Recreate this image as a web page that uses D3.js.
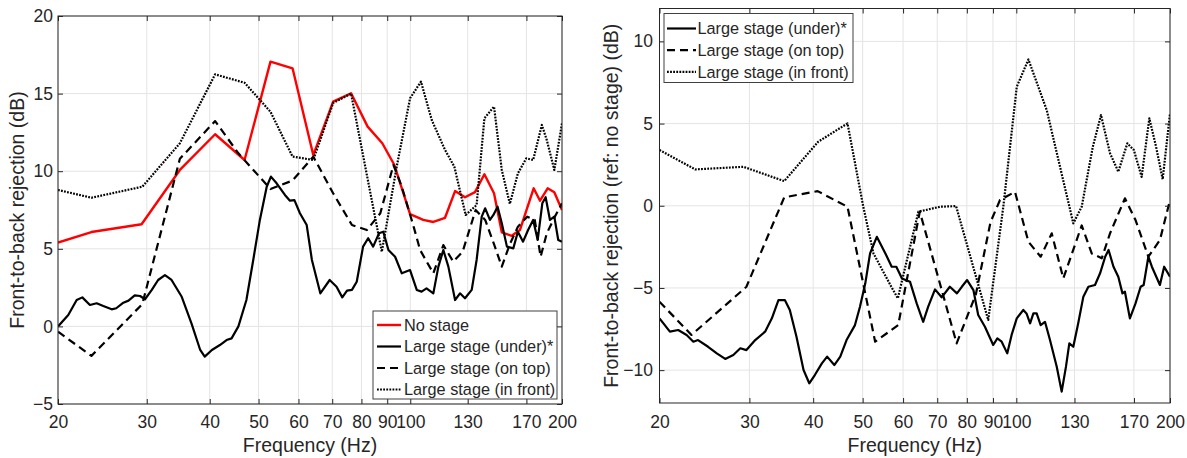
<!DOCTYPE html>
<html>
<head>
<meta charset="utf-8">
<script src="https://cdn.jsdelivr.net/npm/d3@7"></script>
<style>
  html, body { margin: 0; padding: 0; background: #fff; }
  svg { display: block; }
  text { font-family: "Liberation Sans", Arial, Helvetica, sans-serif; fill: #262626; }
</style>
</head>
<body>
<svg id="chart" width="1187" height="458"></svg>
<script>
// ---------------- DATA ----------------
const xTickValues = [20, 30, 40, 50, 60, 70, 80, 90, 100, 130, 170, 200];
const xTickLabels = ["20", "30", "40", "50", "60", "70", "80", "90", "100", "130", "170", "200"];
const leftYTicks = [-5, 0, 5, 10, 15, 20];
const rightYTicks = [-10, -5, 0, 5, 10];

const xLabel = "Frequency (Hz)";
const leftYLabel = "Front-to-back rejection (dB)";
const rightYLabel = "Front-to-back rejection (ref: no stage) (dB)";

const leftLegend = ["No stage", "Large stage (under)*", "Large stage (on top)", "Large stage (in front)"];
const rightLegend = ["Large stage (under)*", "Large stage (on top)", "Large stage (in front)"];

// Left panel: No stage (red)
const noStageFreq = [20, 23.3, 29.3, 34.9, 41.0, 46.9, 52.8, 58.4, 64.2, 70.3, 76.3, 82.3, 88.0, 93.0, 99.9, 106.1, 111.1, 117.2, 122.7, 128.4, 134.4, 140.3, 146.6, 151.9, 158.9, 165, 175.7, 180.9, 187.3, 193.1, 200];
const noStageVal = [5.4, 6.08, 6.58, 10.08, 12.38, 10.72, 17.06, 16.63, 11.04, 14.48, 15.02, 12.87, 11.8, 10.4, 7.24, 6.86, 6.73, 7.0, 8.72, 8.32, 8.65, 9.8, 8.58, 6.06, 5.84, 6.21, 8.9, 8.1, 8.9, 8.64, 7.5];

// Left panel: Large stage (under)* (solid)
const underFreq = [20, 20.96, 21.78, 22.35, 23.14, 23.86, 24.6, 25.56, 26.1, 26.96, 27.6, 28.4, 29.1, 29.76, 30.7, 31.6, 32.6, 33.6, 35.2, 36.8, 38.3, 39.1, 40.4, 41.9, 43.2, 44.2, 45.6, 47.3, 48.8, 50.3, 51.9, 52.9, 54.3, 56.4, 57.7, 58.9, 60.4, 62.3, 63.8, 66.3, 69.2, 71.4, 73.3, 74.9, 76.6, 78.3, 80.6, 82.5, 84.4, 86.7, 88.4, 90.5, 93.3, 96.2, 99.9, 103, 105.3, 107.7, 111.1, 113.7, 116.3, 119, 122.7, 125.5, 128.4, 132.4, 135.4, 138.6, 140.8, 143.9, 146.2, 149, 151.9, 155.5, 160.1, 163.5, 167.4, 171.3, 175.3, 179, 182.8, 185.6, 189.3, 193.1, 196.6, 200];
const underVal = [0, 0.73, 1.7, 1.87, 1.38, 1.49, 1.31, 1.1, 1.17, 1.53, 1.66, 2.0, 1.96, 1.75, 2.35, 2.99, 3.31, 2.99, 1.91, 0.2, -1.52, -1.95, -1.52, -1.2, -0.88, -0.77, 0, 1.7, 4.28, 6.86, 9.0, 9.65, 9.22, 8.47, 8.1, 8.14, 7.29, 6.53, 4.28, 2.13, 2.99, 2.56, 1.87, 2.3, 2.35, 2.88, 5.14, 5.68, 5.14, 6.0, 6.1, 4.92, 4.49, 3.42, 3.63, 2.35, 2.24, 2.45, 2.13, 3.85, 4.92, 3.85, 1.7, 2.13, 1.81, 2.35, 4.28, 7.07, 7.61, 6.86, 7.18, 7.71, 6.64, 5.14, 5.03, 6.1, 5.46, 6.21, 6.86, 5.57, 7.93, 8.32, 6.86, 7.07, 5.57, 5.46];

// Left panel: Large stage (on top) (dashed)
const onTopFreq = [20, 23.3, 29.4, 34.9, 41.0, 45.6, 52.8, 58.4, 64.2, 70.3, 76.6, 82.0, 87.2, 92.6, 96.2, 101.6, 104.6, 111.1, 116.3, 121.7, 127.0, 134.8, 140.8, 146.6, 151.9, 157.6, 163.5, 170.6, 176.6, 181.4, 186.6, 193.1, 200];
const onTopVal = [-0.34, -1.9, 1.44, 10.8, 13.23, 11.15, 8.85, 9.4, 10.94, 8.58, 6.53, 6.21, 7.29, 10.4, 9.0, 6.4, 4.92, 3.42, 5.24, 4.17, 4.81, 7.5, 6.86, 5.3, 3.85, 5.3, 6.42, 7.07, 6.86, 4.49, 6.0, 7.0, 7.93];

// Left panel: Large stage (in front) (dotted)
const inFrontFreq = [20, 23.3, 29.4, 34.9, 41.0, 46.9, 52.8, 58.4, 64.2, 70.3, 76.3, 82.3, 87.8, 94.0, 99.9, 105.0, 110.3, 117.2, 122.3, 128.8, 135.4, 140.3, 146.6, 151.9, 157.6, 163.5, 169.9, 175.3, 182.4, 186.6, 193.1, 200];
const inFrontVal = [8.79, 8.29, 9.0, 11.8, 16.24, 15.7, 13.83, 10.94, 10.72, 14.4, 15.0, 9.5, 4.81, 10.3, 14.7, 15.77, 13.3, 11.37, 10.29, 7.18, 7.82, 13.41, 14.16, 10.08, 7.89, 9.86, 10.83, 10.72, 12.98, 12.0, 10.08, 13.08];

// Right panel: Large stage (under)* relative (solid)
const relUnderFreq = [20, 20.96, 21.76, 22.6, 23.3, 23.8, 24.9, 25.9, 26.9, 27.9, 28.8, 29.6, 30.8, 32.2, 33.2, 34.2, 35.2, 36.0, 37.1, 38.3, 39.3, 40.3, 41.6, 42.6, 44.0, 45.2, 46.5, 48.3, 49.4, 50.6, 51.7, 53.3, 55.4, 57.0, 58.2, 59.7, 61.9, 63.8, 65.7, 67.2, 69.3, 71.4, 74.1, 76.5, 78.2, 80.1, 82.4, 84.2, 86.8, 90.1, 91.8, 93.6, 96.0, 97.9, 100.2, 103.2, 104.7, 106.4, 108, 109.6, 111.6, 113.8, 116.4, 120, 122.7, 125.1, 127, 129.3, 132.2, 135.3, 138.4, 142.6, 145.9, 149.3, 151.6, 155.0, 158.4, 161.4, 163.2, 166.9, 171.2, 175.2, 177.6, 181.4, 184.3, 191.1, 194.8, 200];
const relUnderVal = [-6.85, -7.66, -7.56, -7.86, -8.27, -8.17, -8.58, -8.98, -9.32, -9.08, -8.67, -8.78, -8.17, -7.66, -6.85, -5.74, -5.74, -6.34, -7.97, -9.99, -10.8, -10.3, -9.59, -9.18, -9.69, -9.18, -8.17, -7.26, -6.14, -4.72, -2.9, -1.89, -2.9, -3.71, -3.71, -4.42, -4.62, -5.94, -7.06, -6.14, -5.09, -5.57, -4.93, -5.33, -4.93, -4.52, -5.13, -6.65, -7.36, -8.47, -8.07, -8.27, -8.98, -7.86, -6.85, -6.34, -6.55, -7.15, -6.55, -6.55, -7.26, -7.06, -8.17, -9.79, -11.31, -9.79, -8.37, -8.58, -7.15, -5.53, -4.93, -4.82, -4.11, -3.1, -2.69, -3.71, -4.32, -5.33, -5.23, -6.85, -5.94, -4.93, -4.82, -3.1, -3.71, -4.82, -3.71, -4.32];

// Right panel: Large stage (on top) relative (dashed)
const relOnTopFreq = [20, 23.1, 29.6, 35.1, 40.8, 46.7, 52.9, 58.7, 64.7, 76.4, 83.3, 89.0, 92.9, 99.4, 105.6, 111.6, 117.3, 123.6, 134.3, 140.5, 147, 152.6, 163.2, 171.2, 181.4, 191.1, 200];
const relOnTopVal = [-5.84, -7.86, -4.93, 0.51, 0.89, -0.06, -8.27, -7.26, -0.36, -8.37, -5.4, -1.0, 0.35, 0.85, -2.19, -3.1, -1.68, -4.42, -1.2, -2.9, -3.2, -1.68, 0.45, -0.87, -3.1, -2.09, 0.35];

// Right panel: Large stage (in front) relative (dotted)
const relInFrontFreq = [20, 23.5, 29.2, 35.1, 40.9, 46.7, 50.1, 52.5, 56.9, 58.6, 64.3, 70.9, 76.2, 88.1, 94.3, 100.2, 105.6, 114.7, 129.3, 134.3, 141.2, 146.5, 152.6, 158.4, 165, 169.9, 176, 182.2, 187.8, 193.5, 200];
const relInFrontVal = [3.39, 2.21, 2.37, 1.5, 3.89, 5.01, 0.0, -2.9, -4.93, -5.63, -0.36, -0.06, -0.02, -6.95, -0.06, 7.24, 8.9, 5.82, -1.07, -0.06, 3.59, 5.52, 3.19, 2.07, 3.8, 3.39, 1.76, 5.32, 3.59, 1.61, 5.62];

// ---------------- STYLE ----------------
const axisColor = "#262626";
const gridColor = "#e4e4e4";
const tickFont = 17.5;
const labelFont = 19.5;
const legendFont = 16.3;

const styles = {
  red:    { stroke: "#ff0000", width: 2.4, dash: null },
  solid:  { stroke: "#000000", width: 2.2, dash: null },
  dashed: { stroke: "#000000", width: 2.2, dash: "8,5" },
  dotted: { stroke: "#000000", width: 2.2, dash: "1.8,1.3" }
};

const svg = d3.select("#chart");

function zip(fs, vs) { return fs.map((f, i) => ({ f: f, v: vs[i] })); }

function drawPanel(cfg) {
  const x = d3.scaleLog().domain([20, 200]).range([cfg.x0, cfg.x1]);
  const y = d3.scaleLinear().domain(cfg.yDomain).range([cfg.y1, cfg.y0]);
  const g = svg.append("g");

  // grid
  g.append("g").selectAll("line.vg").data(xTickValues).join("line")
    .attr("x1", d => x(d)).attr("x2", d => x(d))
    .attr("y1", cfg.y0).attr("y2", cfg.y1)
    .attr("stroke", gridColor).attr("stroke-width", 1);
  g.append("g").selectAll("line.hg").data(cfg.yTicks).join("line")
    .attr("x1", cfg.x0).attr("x2", cfg.x1)
    .attr("y1", d => y(d)).attr("y2", d => y(d))
    .attr("stroke", gridColor).attr("stroke-width", 1);

  // series
  const line = d3.line().x(d => x(d.f)).y(d => y(d.v));
  const clipId = "clip" + cfg.id;
  svg.append("clipPath").attr("id", clipId).append("rect")
    .attr("x", cfg.x0).attr("y", cfg.y0).attr("width", cfg.x1 - cfg.x0).attr("height", cfg.y1 - cfg.y0);
  const sg = g.append("g").attr("clip-path", `url(#${clipId})`);
  cfg.series.forEach(s => {
    const st = styles[s.style];
    sg.append("path").datum(zip(s.f, s.v))
      .attr("d", line)
      .attr("fill", "none")
      .attr("stroke", st.stroke)
      .attr("stroke-width", st.width)
      .attr("stroke-linejoin", "round")
      .attr("stroke-dasharray", st.dash);
  });

  // axes
  const fmt = d => xTickLabels[xTickValues.indexOf(d)];
  const axB = g.append("g").attr("transform", `translate(0,${cfg.y1})`)
    .call(d3.axisBottom(x).tickValues(xTickValues).tickFormat(fmt).tickSize(-5).tickPadding(cfg.xPad));
  const axT = g.append("g").attr("transform", `translate(0,${cfg.y0})`)
    .call(d3.axisTop(x).tickValues(xTickValues).tickFormat("").tickSize(-5));
  const axL = g.append("g").attr("transform", `translate(${cfg.x0},0)`)
    .call(d3.axisLeft(y).tickValues(cfg.yTicks).tickSize(-5).tickPadding(cfg.yPad));
  const axR = g.append("g").attr("transform", `translate(${cfg.x1},0)`)
    .call(d3.axisRight(y).tickValues(cfg.yTicks).tickFormat("").tickSize(-5));
  [axB, axT, axL, axR].forEach(a => {
    a.select(".domain").remove();
    a.selectAll(".tick line").attr("stroke", axisColor).attr("stroke-width", 1);
    a.selectAll(".tick text").attr("font-size", tickFont)
      .attr("font-family", '"Liberation Sans", Arial, sans-serif').attr("fill", axisColor);
  });

  // box
  g.append("rect").attr("x", cfg.x0).attr("y", cfg.y0)
    .attr("width", cfg.x1 - cfg.x0).attr("height", cfg.y1 - cfg.y0)
    .attr("fill", "none").attr("stroke", axisColor).attr("stroke-width", 1);

  // labels
  g.append("text").attr("x", (cfg.x0 + cfg.x1) / 2).attr("y", cfg.xLabelY)
    .attr("text-anchor", "middle").attr("font-size", labelFont).text(xLabel);
  g.append("text")
    .attr("transform", `translate(${cfg.yLabelX},${(cfg.y0 + cfg.y1) / 2}) rotate(-90)`)
    .attr("text-anchor", "middle").attr("font-size", labelFont).text(cfg.yLabel);

  // legend
  const L = cfg.legend;
  const lg = g.append("g");
  lg.append("rect").attr("x", L.x).attr("y", L.y).attr("width", L.w).attr("height", L.h)
    .attr("fill", "#fff").attr("stroke", "#404040").attr("stroke-width", 1);
  L.items.forEach((it, i) => {
    const cy = L.y + L.first + i * L.step;
    const st = styles[it.style];
    lg.append("line").attr("x1", L.lx0).attr("x2", L.lx1).attr("y1", cy).attr("y2", cy)
      .attr("stroke", st.stroke).attr("stroke-width", st.width).attr("stroke-dasharray", st.dash);
    lg.append("text").attr("x", L.tx).attr("y", cy + 5.8).attr("font-size", legendFont).text(it.label);
  });
}

drawPanel({
  id: "L", x0: 58, x1: 562, y0: 16, y1: 404, yDomain: [-5, 20], yTicks: leftYTicks,
  xPad: 12, yPad: 5, xLabelY: 452, yLabelX: 24, yLabel: leftYLabel,
  series: [
    { f: noStageFreq, v: noStageVal, style: "red" },
    { f: underFreq, v: underVal, style: "solid" },
    { f: onTopFreq, v: onTopVal, style: "dashed" },
    { f: inFrontFreq, v: inFrontVal, style: "dotted" }
  ],
  legend: {
    x: 373, y: 311, w: 184, h: 88, first: 14, step: 21.5, lx0: 377, lx1: 401, tx: 404,
    items: [
      { label: leftLegend[0], style: "red" },
      { label: leftLegend[1], style: "solid" },
      { label: leftLegend[2], style: "dashed" },
      { label: leftLegend[3], style: "dotted" }
    ]
  }
});

drawPanel({
  id: "R", x0: 659.5, x1: 1170, y0: 8.5, y1: 403, yDomain: [-12, 12], yTicks: rightYTicks,
  xPad: 13, yPad: 6.5, xLabelY: 452, yLabelX: 618, yLabel: rightYLabel,
  series: [
    { f: relUnderFreq, v: relUnderVal, style: "solid" },
    { f: relOnTopFreq, v: relOnTopVal, style: "dashed" },
    { f: relInFrontFreq, v: relInFrontVal, style: "dotted" }
  ],
  legend: {
    x: 664, y: 13.5, w: 189, h: 69, first: 15, step: 21.7, lx0: 667, lx1: 696, tx: 697.5,
    items: [
      { label: rightLegend[0], style: "solid" },
      { label: rightLegend[1], style: "dashed" },
      { label: rightLegend[2], style: "dotted" }
    ]
  }
});
</script>
</body>
</html>
